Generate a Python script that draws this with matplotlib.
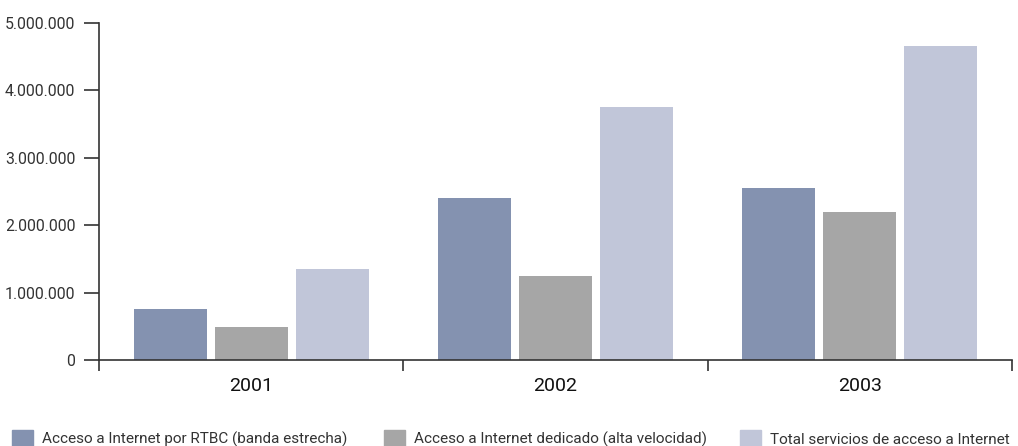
import numpy as np
import matplotlib
matplotlib.use("Agg")
import matplotlib.pyplot as plt
from matplotlib.patches import Patch
from matplotlib.ticker import FuncFormatter, FixedLocator

plt.rcParams['font.family'] = ['Roboto', 'DejaVu Sans']

# Accesos a Internet por tipo (nº de accesos)
anios = ['2001', '2002', '2003']
rtbc = [750000, 2400000, 2550000]
dedicado = [490000, 1250000, 2200000]
total = [1350000, 3750000, 4660000]

series = [
    ('Acceso a Internet por RTBC (banda estrecha)', rtbc, '#8492b0'),
    ('Acceso a Internet dedicado (alta velocidad)', dedicado, '#a6a6a6'),
    ('Total servicios de acceso a Internet', total, '#c1c6d9'),
]

fig = plt.figure(figsize=(10.18, 4.46), dpi=100)
ax = fig.add_axes([99 / 1018, 86 / 446, 913 / 1018, 337 / 446])

x = np.arange(len(anios))
ancho = 0.24
paso = 0.266
for k, (nombre, vals, col) in enumerate(series):
    ax.bar(x + (k - 1) * paso, vals, ancho, color=col, label=nombre)

ax.set_xlim(-0.5, len(anios) - 0.5)
ax.set_ylim(0, 5000000)
ax.set_yticks(np.arange(0, 5000001, 1000000))
ax.yaxis.set_major_formatter(FuncFormatter(lambda v, p: f'{int(v):,}'.replace(',', '.')))

# ticks mayores en los límites de cada año, etiquetas centradas
ax.xaxis.set_major_locator(FixedLocator(np.arange(-0.5, len(anios), 1.0)))
ax.xaxis.set_minor_locator(FixedLocator(x))
ax.set_xticklabels([])
ax.set_xticklabels(anios, minor=True)
ax.tick_params(axis='x', which='major', length=8, width=1.2, color='#333333', direction='out')
ax.tick_params(axis='x', which='minor', length=0, pad=12, labelsize=14, labelcolor='#111111')
ax.tick_params(axis='y', length=11, width=1.2, color='#333333', pad=6,
               labelsize=11.4, labelcolor='#333333')

for lado in ['top', 'right']:
    ax.spines[lado].set_visible(False)
for lado in ['left', 'bottom']:
    ax.spines[lado].set_color('#333333')
    ax.spines[lado].set_linewidth(1.2)

# leyenda: una entrada por serie, repartidas a lo ancho
x_leyenda = [12, 384, 740]
for (nombre, _, col), xl in zip(series, x_leyenda):
    fig.legend(handles=[Patch(color=col, label=nombre)], loc='center left',
               bbox_to_anchor=(xl / 1018, 1 - 439 / 446), frameon=False,
               fontsize=11, handlelength=1.38, handleheight=1.38,
               handletextpad=0.57, labelcolor='#333333', borderaxespad=0,
               borderpad=0)

fig.savefig('out.png', dpi=100)
